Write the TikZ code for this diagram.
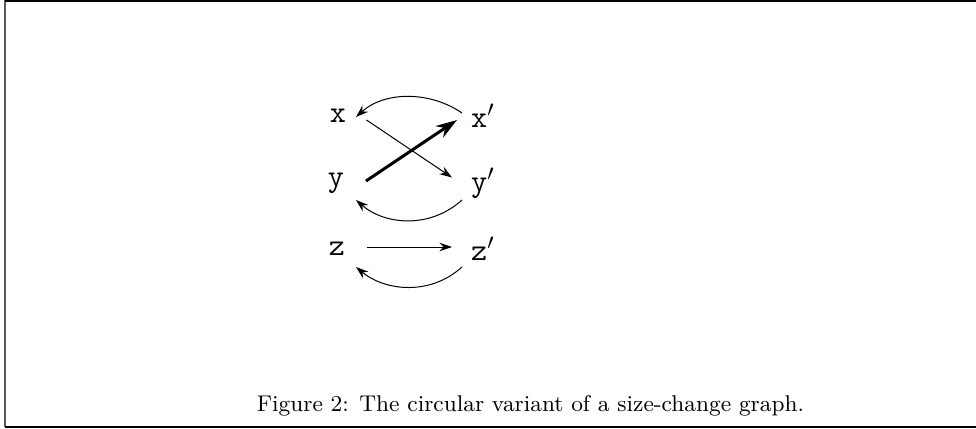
\documentclass[tikz,border=0pt]{standalone}
\usetikzlibrary{arrows.meta}
\begin{document}
\begin{tikzpicture}[x=0.4pt,y=-0.4pt,
  lbl/.style={inner sep=0pt,font=\ttfamily\fontsize{12.5}{14}\selectfont},
  thinarr/.style={-{Stealth[length=5pt,width=3.4pt]},line width=0.4pt},
  thickarr/.style={-{Stealth[length=8.5pt,width=5.5pt]},line width=1.2pt}]
\useasboundingbox (0,0) rectangle (976,428);
\draw[line width=0.8pt,gray!70!black] (5.5,0) -- (5.5,427);
\draw[line width=0.6pt] (5,1) -- (976,1);
\draw[line width=0.8pt] (5,427) -- (976,427);
\node[lbl] (x) at (338,116) {x};
\node[lbl] (xp) at (483,116) {x$'$};
\node[lbl] (y) at (336,183) {y};
\node[lbl] (yp) at (483,183) {y$'$};
\node[lbl] (z) at (337,249) {z};
\node[lbl] (zp) at (483,249) {z$'$};
\coordinate (a1) at (462,113);
\coordinate (a2) at (356,117);
\draw[thinarr] (a1) .. controls (430,91) and (385,91) .. (a2);
\coordinate (b1) at (366.5,120);
\coordinate (b2) at (452,177.5);
\draw[thinarr] (b1) -- (b2);
\coordinate (c1) at (366,181);
\coordinate (c2) at (457,120);
\draw[thickarr] (c1) -- (c2);
\coordinate (d1) at (462,200);
\coordinate (d2) at (356,200);
\draw[thinarr] (d1) .. controls (430,229) and (385,225) .. (d2);
\coordinate (e1) at (366.5,247);
\coordinate (e2) at (452,247);
\draw[thinarr] (e1) -- (e2);
\coordinate (f1) at (462,267);
\coordinate (f2) at (356,267);
\draw[thinarr] (f1) .. controls (430,296) and (385,291) .. (f2);
\node[anchor=base,inner sep=0pt,font=\fontsize{9.1}{11}\selectfont] (cap) at (530.5,411.5) {Figure 2: The circular variant of a size-change graph.};
\end{tikzpicture}
\end{document}
